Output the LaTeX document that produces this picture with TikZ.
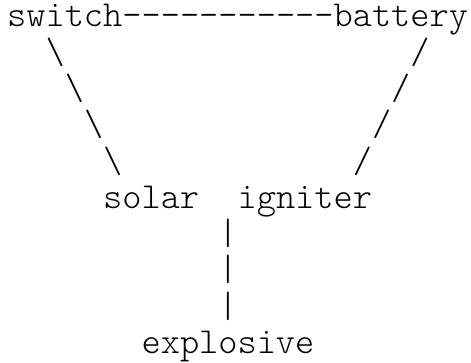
\documentclass[tikz,border=0pt]{standalone}
\usepackage{tikz}

\begin{document}
\begin{tikzpicture}[x=19.2pt, y=-36.3pt,
  every node/.style={font=\ttfamily\fontseries{l}\fontsize{36.57pt}{36pt}\selectfont, inner sep=0pt, anchor=base west}]

  \useasboundingbox (-7pt,26.8pt) rectangle (464pt,-335.2pt);

  \node (switch) at (0,0) {switch};
  \node (battery) at (17,0) {battery};
  \node (solar) at (5,5) {solar};
  \node (igniter) at (12,5) {igniter};
  \node (explosive) at (7,9) {explosive};

  \foreach \c in {6,...,16}
    \node (dash\c) at (\c,0) {-};

  \foreach \r in {1,...,4} {
    \node (back\r) at (1+\r,\r) {\textbackslash};
    \node (fwd\r) at (22-\r,\r) {/};
  }

  \foreach \r in {6,7,8}
    \node (bar\r) at (11,\r) {|};

\end{tikzpicture}
\end{document}
